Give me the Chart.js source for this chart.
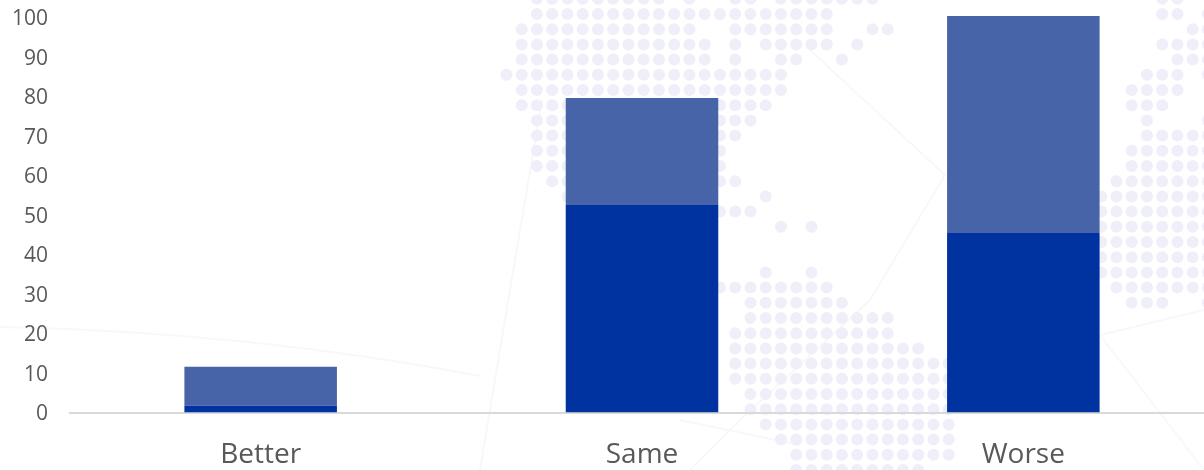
<!DOCTYPE html>
<html>
<head>
<meta charset="utf-8">
<style>
html,body{margin:0;padding:0;background:#fff;width:1204px;height:470px;overflow:hidden}
canvas{display:block}
</style>
<script src="https://cdn.jsdelivr.net/npm/chart.js@4/dist/chart.umd.min.js"></script>
</head>
<body>
<canvas id="c" width="1214" height="470" style="width:1214px;height:470px"></canvas>
<script>
const categories = ["Better", "Same", "Worse"];
const lowerValues = [1.7, 52.6, 45.5];
const upperValues = [9.9, 27.1, 55.0];
const tickLabels = [0, 10, 20, 30, 40, 50, 60, 70, 80, 90, 100];

// Watermark behind the chart: dotted map, row index then column spans
const watermarkRows = [
  [-1,[1,9],[11,11],[14,15],[17,23],[42,43]],
  [0,[1,20],[42,43],[45,45]],
  [1,[0,11],[14,20],[23,24],[44,45]],
  [2,[0,12],[14,14],[16,20],[22,22],[42,45]],
  [3,[0,12],[14,14],[17,18],[21,21],[43,45]],
  [4,[-1,17],[41,43],[45,45]],
  [5,[0,17],[40,43]],
  [6,[0,16],[40,42]],
  [7,[1,15],[41,41],[45,45]],
  [8,[1,14],[41,45]],
  [9,[1,13],[40,45]],
  [10,[1,13],[40,45]],
  [11,[2,14],[39,45]],
  [12,[3,3],[16,16],[38,45]],
  [13,[13,15],[38,45]],
  [14,[17,17],[19,19],[38,45]],
  [15,[38,45]],
  [16,[38,45]],
  [17,[16,16],[19,19],[38,45]],
  [18,[13,20],[39,45]],
  [19,[15,21],[40,42],[45,45]],
  [20,[15,24]],
  [21,[14,24]],
  [22,[14,26]],
  [23,[14,28]],
  [24,[14,28]],
  [25,[15,28]],
  [26,[15,28]],
  [27,[16,28]],
  [28,[17,28]],
  [29,[18,28]],
  [30,[18,26]]
];
const watermarkCurves = [
  [[0,327],[250,332],[480,376]]
];
const watermarkLines = [
  [[480,470],[510,290],[542,100]],
  [[810,50],[945,175],[870,300],[740,420],[690,470]],
  [[680,420],[800,445]],
  [[1100,335],[1204,310]],
  [[1100,335],[1204,470]]
];

const watermark = {
  id: "watermark",
  beforeDraw(chart) {
    const g = chart.ctx;
    g.save();
    g.filter = "blur(0.6px)";
    g.strokeStyle = "#f8f8fb";
    g.lineWidth = 2;
    for (const pts of watermarkCurves) {
      g.beginPath();
      g.moveTo(pts[0][0], pts[0][1]);
      g.quadraticCurveTo(pts[1][0], pts[1][1], pts[2][0], pts[2][1]);
      g.stroke();
    }
    for (const pts of watermarkLines) {
      g.beginPath();
      pts.forEach((p, i) => i ? g.lineTo(p[0], p[1]) : g.moveTo(p[0], p[1]));
      g.stroke();
    }
    g.fillStyle = "#eeeff8";
    for (const row of watermarkRows) {
      const y = 14 + row[0] * 15.2;
      for (const span of row.slice(1)) {
        for (let c = span[0]; c <= span[1]; c++) {
          g.beginPath();
          g.arc(521.7 + c * 15.25, y, 6, 0, Math.PI * 2);
          g.fill();
        }
      }
    }
    g.restore();
  }
};

new Chart(document.getElementById("c"), {
  type: "bar",
  plugins: [watermark],
  data: {
    labels: categories,
    datasets: [
      { label: "Lower", data: lowerValues, backgroundColor: "#0033a0", borderWidth: 0 },
      { label: "Upper", data: upperValues, backgroundColor: "#4764a8", borderWidth: 0 }
    ]
  },
  options: {
    responsive: false,
    animation: false,
    layout: { padding: { top: 15.6, left: 0, right: 0, bottom: 0 } },
    plugins: { legend: { display: false }, tooltip: { enabled: false } },
    datasets: { bar: { barPercentage: 1, categoryPercentage: 0.4 } },
    scales: {
      x: {
        stacked: true,
        grid: { display: false, drawTicks: false },
        border: { color: "#d9d9d9", width: 2 },
        afterFit(a) { a.height = 57.5; a.paddingLeft = 0; a.paddingRight = 0; },
        ticks: {
          color: "#595959",
          font: { family: "'Open Sans'", size: 28 },
          padding: 26,
          maxRotation: 0
        }
      },
      y: {
        stacked: true,
        min: 0,
        max: 100.6,
        grid: { display: false, drawTicks: false },
        border: { display: false },
        afterFit(a) { a.width = 70; a.paddingTop = 0; a.paddingBottom = 0; },
        afterBuildTicks(a) { a.ticks = tickLabels.map(v => ({ value: v })); },
        ticks: {
          color: "#595959",
          font: { family: "'Open Sans'", size: 21 },
          padding: 22,
          labelOffset: 1.5,
          callback: v => String(v)
        }
      }
    }
  }
});
</script>
</body>
</html>
